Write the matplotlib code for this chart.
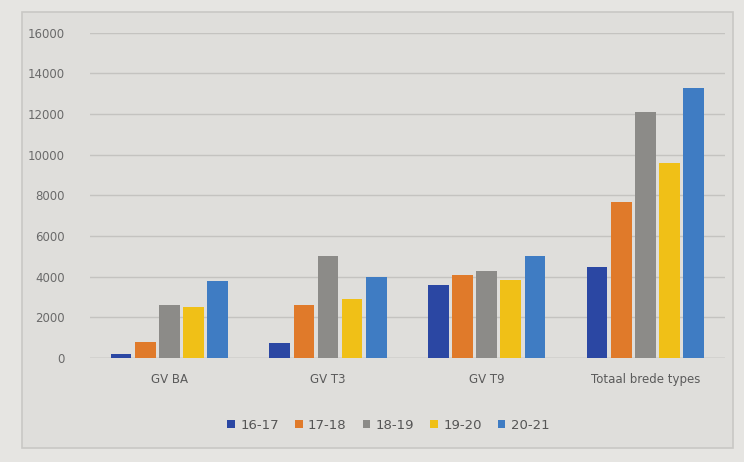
import numpy as np
import matplotlib.pyplot as plt
from matplotlib.patches import Rectangle

categories = ["GV BA", "GV T3", "GV T9", "Totaal brede types"]
seasons = ["16-17", "17-18", "18-19", "19-20", "20-21"]
values = {
    "16-17": [200, 750, 3600, 4500],
    "17-18": [800, 2600, 4100, 7700],
    "18-19": [2600, 5000, 4300, 12100],
    "19-20": [2500, 2900, 3850, 9600],
    "20-21": [3800, 4000, 5000, 13300],
}
colors = ["#2b47a3", "#e07a2a", "#8c8b88", "#f0c017", "#3f7cc3"]
yticks = [0, 2000, 4000, 6000, 8000, 10000, 12000, 14000, 16000]

bg = "#dfdedb"
fig = plt.figure(figsize=(7.44, 4.62), dpi=100, facecolor="#e6e5e2")
# chart frame behind the axes
fig.patches.append(Rectangle((0.03, 0.03), 0.955, 0.945, transform=fig.transFigure,
                             facecolor=bg, edgecolor="#c9c8c5", linewidth=1.2, zorder=-1))
ax = fig.add_axes([0.121, 0.225, 0.853, 0.704])
ax.set_facecolor("none")
ax.set_zorder(2)

x = np.arange(len(categories))
step = 0.152
width = 0.13
for i, s in enumerate(seasons):
    ax.bar(x + (i - 2) * step, values[s], width, color=colors[i], label=s, zorder=3)

ax.set_ylim(0, 16000)
ax.set_xlim(-0.5, len(categories) - 0.5)
ax.set_yticks(yticks)
ax.set_yticklabels([str(v) for v in yticks], color="#6a6a6a", fontsize=8.5)
ax.set_xticks(x)
ax.set_xticklabels(categories, color="#5a5a5a", fontsize=8.5)
ax.tick_params(length=0, axis="y", pad=18)
ax.tick_params(length=0, axis="x", pad=11)
ax.grid(axis="y", color="#c4c3c0", linewidth=1, zorder=0)
ax.set_axisbelow(True)
for sp in ax.spines.values():
    sp.set_visible(False)
ax.axhline(0, color="#bdbcb9", linewidth=1, zorder=2)

ax.legend(loc="upper center", bbox_to_anchor=(0.47, -0.15), ncol=5, frameon=False,
          fontsize=9.5, handlelength=0.6, handleheight=0.6, handletextpad=0.4,
          columnspacing=1.2, labelcolor="#555555")

fig.savefig("out.png", dpi=100, facecolor=fig.get_facecolor())
